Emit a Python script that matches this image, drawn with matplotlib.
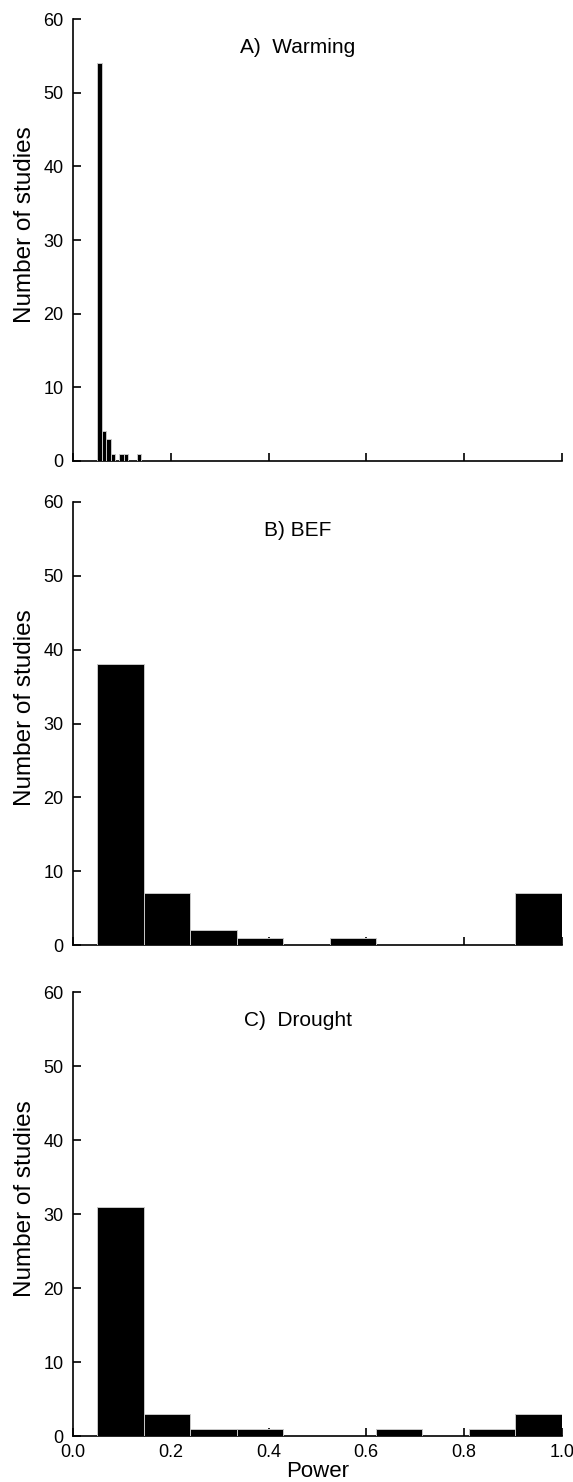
import matplotlib
matplotlib.use("Agg")
import matplotlib.pyplot as plt
import numpy as np

plt.rcParams['font.family'] = ['Liberation Sans', 'DejaVu Sans']

# histogram bins and counts
warming_edges = np.linspace(0.05, 0.14, 11)
warming_counts = [54, 4, 3, 1, 0, 1, 1, 0, 0, 1]
bef_edges = np.linspace(0.05, 1.0, 11)
bef_counts = [38, 7, 2, 1, 0, 1, 0, 0, 0, 7]
drought_edges = np.linspace(0.05, 1.0, 11)
drought_counts = [31, 3, 1, 1, 0, 0, 1, 0, 1, 3]

titles = ["A)  Warming", "B) BEF", "C)  Drought"]
panels = [(warming_edges, warming_counts), (bef_edges, bef_counts),
          (drought_edges, drought_counts)]

fig = plt.figure(figsize=(5.73, 14.82), dpi=100)
# axes boxes in figure fraction (left, bottom, width, height)
boxes = [(0.1274, 0.689, 0.853, 0.298),
         (0.1274, 0.3623, 0.853, 0.2990),
         (0.1274, 0.0310, 0.853, 0.2996)]

for i, ((edges, counts), title, box) in enumerate(zip(panels, titles, boxes)):
    ax = fig.add_axes(box)
    ax.bar(edges[:-1], counts, width=np.diff(edges), align='edge',
           color='black', edgecolor='#c8c8c8', linewidth=0.7, zorder=3)
    ax.set_xlim(0, 1.0)
    ax.set_ylim(0, 60)
    ax.set_yticks([0, 10, 20, 30, 40, 50, 60])
    ax.set_xticks([0.0, 0.2, 0.4, 0.6, 0.8, 1.0])
    ax.spines['top'].set_visible(False)
    ax.spines['right'].set_visible(False)
    ax.spines['left'].set_linewidth(1.2)
    ax.spines['bottom'].set_linewidth(1.2)
    ax.set_axisbelow(True)
    ax.tick_params(direction='in', length=6, width=1.2, labelsize=13)
    ax.tick_params(axis='y', pad=7)
    ax.tick_params(axis='x', pad=6)
    ax.set_ylabel("Number of studies", fontsize=17.5)
    ax.yaxis.set_label_coords(-0.076, 0.535)
    ax.text(0.46, 56.2, title, ha='center', va='center', fontsize=15)
    if i < 2:
        ax.tick_params(axis='x', labelbottom=False)
    else:
        ax.xaxis.set_major_formatter(plt.FormatStrFormatter('%.1f'))
        ax.set_xlabel("Power", fontsize=16, labelpad=0)

fig.savefig("out.png", dpi=100)
